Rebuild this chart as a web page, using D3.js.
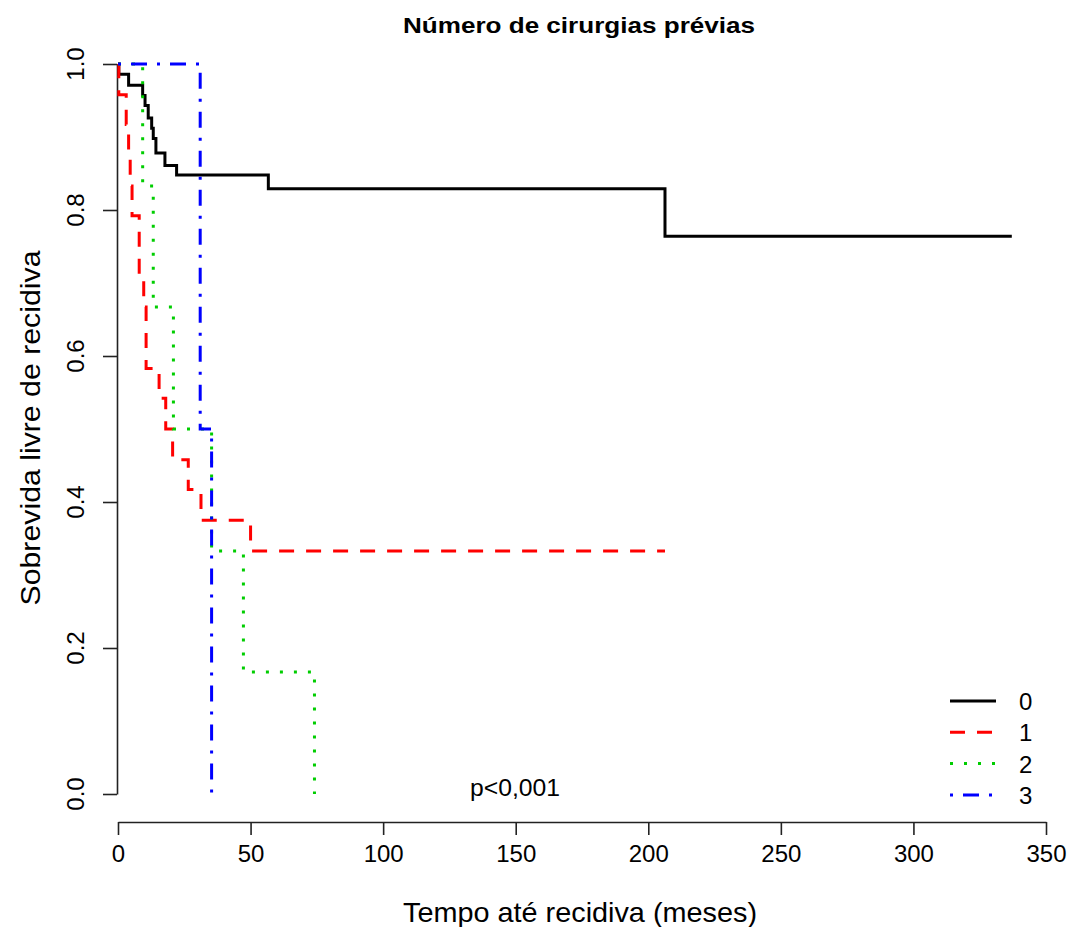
<!DOCTYPE html>
<html><head><meta charset="utf-8">
<script src="https://cdn.jsdelivr.net/npm/d3@7"></script>
<style>body{margin:0;background:#fff}svg{display:block}text{font-family:"Liberation Sans",Arial,sans-serif;fill:#000}</style>
</head><body><svg id="c" width="1074" height="927"></svg>
<script>
const groups = ["0","1","2","3"];
const colors = ["#000000","#ff0000","#00cd00","#0000ff"];
const dashes = [null,"15,12","3,11","3,10,16,10"];
const times0 = [0,0.3,4.0,9.3,10.2,11.4,12.7,13.3,14.3,17.7,22.1,56.7,206.3];
const surv0  = [1,0.986,0.971,0.957,0.943,0.926,0.912,0.898,0.878,0.861,0.848,0.829,0.764];
const end0 = 337.1;
const times1 = [0,0.3,3.1,4.0,4.6,5.3,8.0,9.7,10.6,15.5,18.0,20.6,26.5,31.3,50.0];
const surv1  = [1,0.958,0.917,0.875,0.833,0.792,0.708,0.667,0.583,0.542,0.5,0.458,0.417,0.375,0.333];
const end1 = 206.3;
const times2 = [0,9.3,13.3,20.9,35.3,47.3,74.1];
const surv2  = [1,0.833,0.667,0.5,0.333,0.167,0];
const end2 = 74.1;
const times3 = [0,31.0,35.3];
const surv3  = [1,0.5,0];
const end3 = 35.3;
const xTicks = [0,50,100,150,200,250,300,350];
const yTicks = [0,0.2,0.4,0.6,0.8,1.0];
const title = "Número de cirurgias prévias";
const xTitle = "Tempo até recidiva (meses)";
const yTitle = "Sobrevida livre de recidiva";
const pText = "p<0,001";

const series = [[times0,surv0,end0],[times1,surv1,end1],[times2,surv2,end2],[times3,surv3,end3]];
const svg = d3.select("#c");
const x = d3.scaleLinear().domain([0,350]).range([118,1046]);
const y = d3.scaleLinear().domain([0,1]).range([794,64]);

// axes
const xa = svg.append("g").attr("transform","translate(0,822)")
  .call(d3.axisBottom(x).tickValues(xTicks).tickSize(13).tickSizeOuter(0).tickPadding(10).tickFormat(d3.format("d")));
xa.selectAll("text").attr("font-size",24).attr("font-family","Liberation Sans, Arial, sans-serif").attr("fill","#000");
xa.selectAll("line,path").attr("stroke","#222").attr("stroke-width",1.6);

const ya = svg.append("g").attr("transform","translate(117,0)")
  .call(d3.axisLeft(y).tickValues(yTicks).tickSize(14).tickSizeOuter(0).tickFormat(""));
ya.selectAll("line,path").attr("stroke","#222").attr("stroke-width",1.6);
svg.append("g").selectAll("text").data(yTicks).join("text")
  .attr("transform",d=>`translate(84,${y(d)}) rotate(-90)`)
  .attr("text-anchor","middle").attr("font-size",24).text(d=>d3.format(".1f")(d));

// titles
svg.append("text").attr("x",579).attr("y",33).attr("text-anchor","middle")
  .attr("font-size",22).attr("font-weight","bold")
  .attr("textLength",352).attr("lengthAdjust","spacingAndGlyphs").text(title);
svg.append("text").attr("x",580).attr("y",922).attr("text-anchor","middle")
  .attr("font-size",28).attr("textLength",354).attr("lengthAdjust","spacingAndGlyphs").text(xTitle);
svg.append("text").attr("transform","translate(40,428) rotate(-90)").attr("text-anchor","middle")
  .attr("font-size",28).attr("textLength",355).attr("lengthAdjust","spacingAndGlyphs").text(yTitle);

// curves
const line = d3.line().x(d=>x(d[0])).y(d=>y(d[1])).curve(d3.curveStepAfter);
series.forEach((s,i)=>{
  const pts = s[0].map((t,j)=>[t,s[1][j]]);
  pts.push([s[2], s[1][s[1].length-1]]);
  const p = svg.append("path").datum(pts).attr("d",line).attr("fill","none")
    .attr("stroke",colors[i]).attr("stroke-width",3).attr("stroke-linejoin","miter").attr("stroke-linecap","butt");
  if(dashes[i]) p.attr("stroke-dasharray",dashes[i]);
});

// p-value
svg.append("text").attr("x",515).attr("y",796).attr("text-anchor","middle").attr("font-size",23)
  .attr("textLength",90).attr("lengthAdjust","spacingAndGlyphs").text(pText);

// legend
const lg = svg.append("g");
groups.forEach((g,i)=>{
  const yy = 701 + i*31.3;
  lg.append("line").attr("x1",950).attr("x2",996).attr("y1",yy).attr("y2",yy)
    .attr("stroke",colors[i]).attr("stroke-width",3).attr("stroke-dasharray",dashes[i]);
  lg.append("text").attr("x",1019).attr("y",yy+9).attr("font-size",24).text(g);
});
</script></body></html>
